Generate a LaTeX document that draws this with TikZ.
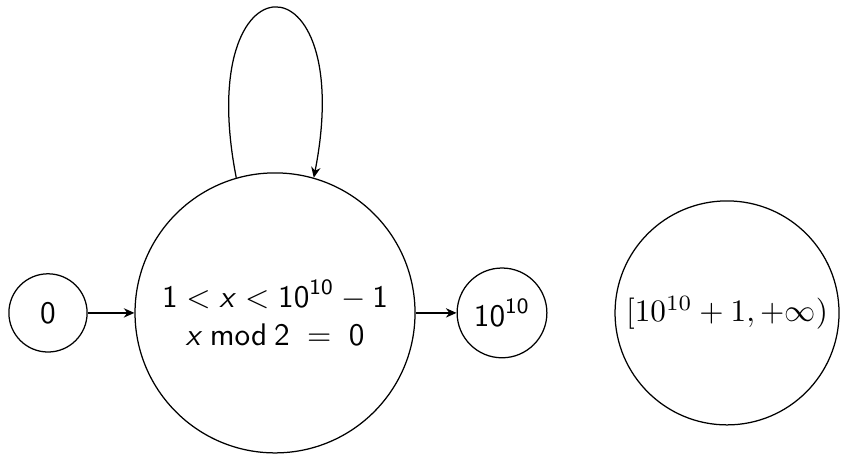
\documentclass[tikz,border=0pt]{standalone}
\usetikzlibrary{arrows.meta}
\DeclareMathAlphabet{\mathsfit}{OT1}{cmss}{m}{sl}

\begin{document}
\begin{tikzpicture}[
    setnode/.style={circle, draw, inner sep=0pt, align=center},
    arrow/.style={-{Stealth[length=3.4pt, width=3pt]}}
]
    \useasboundingbox (0,-1.586) rectangle (9.4725,3.52);

    % States
    \node[setnode, minimum size=0.88cm] (zero) at (0.54, 0) {$\mathsf{0}$};
    \node[setnode, minimum size=3.15cm] (even) at (3.094, 0)
        {$\mathsf{1} < \mathsfit{x} < \mathsf{10}^{\mathsf{10}} - \mathsf{1}$\\
         $\mathsfit{x} \mathbin{\mathsf{mod}} \mathsf{2} \;=\; \mathsf{0}$};
    \node[setnode, minimum size=1.01cm] (ten) at (5.6475, 0) {$\mathsf{10}^{\mathsf{10}}$};
    \node[setnode, minimum size=2.52cm, font=\fontsize{9.6}{11}\selectfont] (big) at (8.179, 0) {$[10^{10}+1,+\infty)$};

    % Transitions
    \draw[arrow] (zero) -- (even);
    \draw[arrow] (even) -- (ten);
    \draw[arrow] (even.106) .. controls +(-0.5,2.55) and +(0.5,2.55) .. (even.74);
\end{tikzpicture}
\end{document}
